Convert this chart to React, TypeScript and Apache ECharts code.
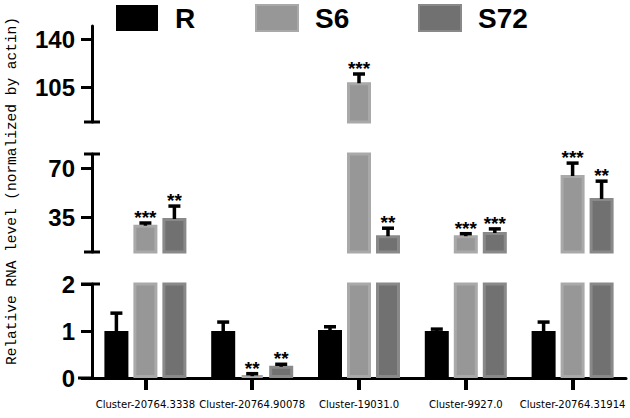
import React, { useEffect, useRef } from "react";
import * as echarts from "echarts";

// ---- data ----
const categories = [
  "Cluster-20764.3338",
  "Cluster-20764.90078",
  "Cluster-19031.0",
  "Cluster-9927.0",
  "Cluster-20764.31914",
];
const seriesNames = ["R", "S6", "S72"];
const rValues = [1.0, 1.0, 1.02, 1.0, 1.0];
const rErrors = [0.38, 0.19, 0.07, 0.04, 0.19];
const s6Values = [29.5, 0.06, 109, 22, 65];
const s6Errors = [1.2, 0.02, 6, 0.6, 8.5];
const s72Values = [34.3, 0.26, 22, 24.3, 48.6];
const s72Errors = [8.5, 0.02, 5, 2.2, 12];
const rStars = ["", "", "", "", ""];
const s6Stars = ["***", "**", "***", "***", "***"];
const s72Stars = ["**", "**", "**", "***", "**"];

// broken axis segments: bottom, middle, top
const segMin = [0, 10, 80];
const segMax = [2, 80, 150];
const segTicks = [
  [0, 1, 2],
  [35, 70],
  [105, 140],
];

// ---- layout / style ----
const GRID_LEFT = 92;
const GRID_RIGHT = 4;
const gridTops = [284, 154, 26];
const gridHeights = [94, 98, 96];
const BAR_W = 24;
const BAR_GAP = 5;
const colors = ["#000000", "#979797", "#717171"];
const borders = ["#000000", "#a9a9a9", "#898989"];
const LABEL_FONT = "'Liberation Sans', Arial, sans-serif";

const allValues = [rValues, s6Values, s72Values];
const allErrors = [rErrors, s6Errors, s72Errors];
const allStars = [rStars, s6Stars, s72Stars];

export default function App() {
  const ref = useRef<HTMLDivElement>(null);

  useEffect(() => {
    if (!ref.current) return;
    const chart = echarts.init(ref.current, undefined, { renderer: "svg" });

    const grids = gridTops.map((t, g) => ({
      left: GRID_LEFT,
      right: GRID_RIGHT,
      top: t,
      height: gridHeights[g],
    }));

    const xAxes = [0, 1, 2].map((g) => ({
      type: "category",
      gridIndex: g,
      data: categories,
      show: g === 0,
      axisLine: { show: true, lineStyle: { color: "#000", width: 3 } },
      axisTick: {
        show: true,
        alignWithLabel: true,
        length: 12,
        lineStyle: { color: "#000", width: 4 },
      },
      axisLabel: {
        interval: 0,
        margin: 21,
        color: "#000",
        fontSize: 11.2,
        fontFamily: "'Liberation Sans Narrow', 'DejaVu Sans Condensed', 'Liberation Mono', monospace",
      },
    }));

    const yAxes = [0, 1, 2].map((g) => ({
      type: "value",
      gridIndex: g,
      min: segMin[g],
      max: segMax[g],
      splitLine: { show: false },
      axisLine: { show: true, lineStyle: { color: "#000", width: 3 } },
      axisTick: {
        show: true,
        length: 11,
        customValues: segTicks[g],
        lineStyle: { color: "#000", width: 3 },
      },
      axisLabel: {
        customValues: segTicks[g],
        margin: 17,
        color: "#000",
        fontSize: 24,
        fontWeight: "bold",
        fontFamily: LABEL_FONT,
      },
    }));

    const series: any[] = [];
    [0, 1, 2].forEach((g) => {
      seriesNames.forEach((name, s) => {
        series.push({
          type: "bar",
          name,
          xAxisIndex: g,
          yAxisIndex: g,
          barWidth: BAR_W,
          barGap: `${(BAR_GAP / BAR_W) * 100}%`,
          clip: true,
          itemStyle: {
            color: colors[s],
            borderColor: borders[s],
            borderWidth: s === 0 ? 0 : 3,
          },
          data: allValues[s].map((v) => (v >= segMin[g] ? v : "-")),
        });
      });
      // error bars + significance
      const errData: any[] = [];
      const errStars: string[] = [];
      seriesNames.forEach((_, s) => {
        allValues[s].forEach((v, i) => {
          if (v >= segMin[g] && v <= segMax[g]) {
            errData.push([i, v, v + allErrors[s][i], s]);
            errStars.push(allStars[s][i]);
          }
        });
      });
      series.push({
        type: "custom",
        xAxisIndex: g,
        yAxisIndex: g,
        z: 10,
        clip: false,
        data: errData,
        renderItem: (params: any, api: any) => {
          const i = api.value(0);
          const v = api.value(1);
          const top = api.value(2);
          const s = api.value(3);
          const p0 = api.coord([i, v]);
          const p1 = api.coord([i, top]);
          const x = p0[0] + (s - 1) * (BAR_W + BAR_GAP);
          const capY = Math.min(p1[1], p0[1] - 1.5);
          const children: any[] = [
            {
              type: "line",
              shape: { x1: x, y1: p0[1] + 1, x2: x, y2: capY },
              style: { stroke: "#000", lineWidth: 3.5 },
            },
            {
              type: "line",
              shape: { x1: x - 6, y1: capY, x2: x + 6, y2: capY },
              style: { stroke: "#000", lineWidth: 3.5 },
            },
          ];
          const star = errStars[params.dataIndex];
          if (star) {
            children.push({
              type: "text",
              style: {
                text: star,
                x,
                y: capY + 4,
                align: "center",
                verticalAlign: "bottom",
                fontSize: 19,
                fontWeight: "bold",
                fontFamily: LABEL_FONT,
                fill: "#000",
              },
            });
          }
          return { type: "group", children };
        },
      });
    });

    const capLine = (y: number, x1: number, x2: number) => ({
      type: "line",
      shape: { x1, y1: y, x2, y2: y },
      style: { stroke: "#000", lineWidth: 3 },
      z: 20,
    });

    const graphic: any[] = [
      capLine(gridTops[2] + gridHeights[2], GRID_LEFT - 8, GRID_LEFT + 8),
      capLine(gridTops[1], GRID_LEFT - 8, GRID_LEFT + 8),
      capLine(gridTops[1] + gridHeights[1], GRID_LEFT - 8, GRID_LEFT + 8),
      capLine(gridTops[0], GRID_LEFT - 11, GRID_LEFT + 8),
      capLine(gridTops[0] + gridHeights[0], GRID_LEFT - 14, GRID_LEFT),
      {
        type: "text",
        x: 12,
        y: 191,
        rotation: Math.PI / 2,
        style: {
          text: "Relative RNA level (normalized by actin)",
          fontSize: 14.5,
          fontFamily: "'Liberation Mono', monospace",
          fill: "#000",
          align: "center",
          verticalAlign: "middle",
        },
      },
    ];

    const legendBase = {
      top: 4,
      padding: 0,
      itemWidth: 42,
      itemHeight: 26,
      icon: "rect",
      selectedMode: false,
      textStyle: {
        fontSize: 28,
        fontWeight: "bold",
        fontFamily: LABEL_FONT,
        color: "#000",
        padding: [0, 0, 0, 12],
      },
    };

    chart.setOption({
      animation: false,
      backgroundColor: "#fff",
      legend: [
        { ...legendBase, data: ["R"], left: 116 },
        { ...legendBase, data: ["S6"], left: 255 },
        { ...legendBase, data: ["S72"], left: 418 },
      ],
      grid: grids,
      xAxis: xAxes,
      yAxis: yAxes,
      series,
      graphic,
    });

    return () => chart.dispose();
  }, []);

  return <div ref={ref} style={{ width: 630, height: 418, position: "absolute", left: 0, top: 0 }} />;
}
